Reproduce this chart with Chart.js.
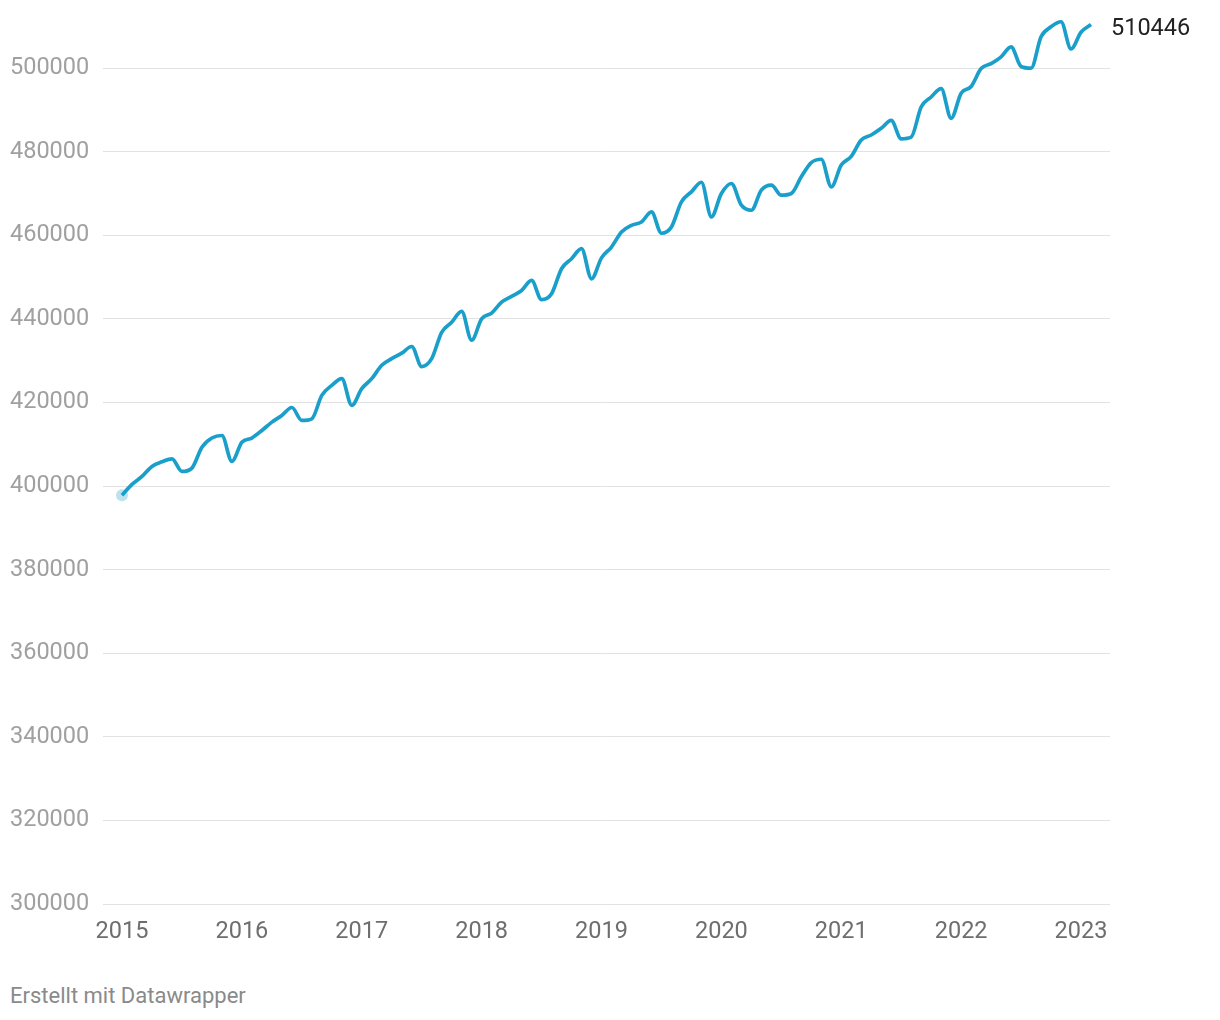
<!DOCTYPE html>
<html>
<head>
<meta charset="utf-8">
<script src="https://cdn.jsdelivr.net/npm/chart.js@4"></script>
<style>
  html, body { margin: 0; padding: 0; background: #fff; }
  #wrap { position: relative; width: 1220px; height: 1020px; }
  #chart-box { position: absolute; left: 0; top: 0; width: 1220px; height: 960px; }
  #credit { position: absolute; left: 10px; top: 983px; font: 22px Roboto, sans-serif; color: #8a8a8a; }
</style>
</head>
<body>
<div id="wrap">
  <div id="chart-box"><canvas id="lineChart"></canvas></div>
  <div id="credit">Erstellt mit Datawrapper</div>
</div>
<script>
// monthly values, Jan..Dec per year
var years = [2015, 2016, 2017, 2018, 2019, 2020, 2021, 2022, 2023];
var v2015 = [397800, 400400, 402300, 404700, 405800, 406500, 403500, 404300, 409300, 411500, 412100, 405900];
var v2016 = [410500, 411500, 413300, 415300, 416900, 418800, 415700, 416100, 421700, 424100, 425700, 419300];
var v2017 = [423300, 425700, 428900, 430500, 431800, 433400, 428600, 430500, 436800, 439200, 441800, 434900];
var v2018 = [440000, 441400, 444000, 445400, 446800, 449200, 444600, 446000, 452000, 454400, 456800, 449600];
var v2019 = [454600, 457200, 460800, 462400, 463200, 465600, 460500, 462000, 468000, 470400, 472700, 464400];
var v2020 = [470000, 472400, 467200, 466000, 470800, 472000, 469600, 470000, 474000, 477400, 478200, 471600];
var v2021 = [476800, 478900, 482800, 484000, 485600, 487500, 483100, 483500, 490700, 493100, 495100, 488000];
var v2022 = [494000, 495600, 499900, 501100, 502700, 505100, 500400, 500000, 507500, 509900, 511100, 504600];
var v2023 = [508600, 510446];
var yTicks = [300000, 320000, 340000, 360000, 380000, 400000, 420000, 440000, 460000, 480000, 500000];
var xTicks = [2015, 2016, 2017, 2018, 2019, 2020, 2021, 2022, 2023];

var series = [v2015, v2016, v2017, v2018, v2019, v2020, v2021, v2022, v2023];
var points = [];
series.forEach(function(arr, i) {
    arr.forEach(function(v, m) {
        points.push({ x: years[i] + m / 12, y: v });
    });
});

var lineBlue = '#1a9fcb';

var lastLabel = {
    id: 'lastLabel',
    afterDatasetsDraw: function(chart) {
        var meta = chart.getDatasetMeta(0);
        var pt = meta.data[meta.data.length - 1];
        var val = points[points.length - 1].y;
        var ctx = chart.ctx;
        ctx.save();
        ctx.font = '23.5px Roboto';
        ctx.fillStyle = '#222';
        ctx.textAlign = 'left';
        ctx.textBaseline = 'middle';
        ctx.fillText(String(val), chart.chartArea.right + 1, pt.y + 5);
        ctx.restore();
    }
};

new Chart(document.getElementById('lineChart').getContext('2d'), {
    type: 'line',
    data: {
        datasets: [{
            data: points,
            borderColor: lineBlue,
            borderWidth: 3.7,
            cubicInterpolationMode: 'monotone',
            pointRadius: function(c) { return c.dataIndex === 0 ? 6 : 0; },
            pointBackgroundColor: 'rgba(26,159,203,0.3)',
            pointBorderWidth: 0,
            pointHoverRadius: 0,
            fill: false,
            clip: false
        }]
    },
    options: {
        responsive: true,
        maintainAspectRatio: false,
        animation: false,
        events: [],
        layout: { padding: { left: 10, right: 110, top: 18, bottom: 0 } },
        plugins: { legend: { display: false }, tooltip: { enabled: false } },
        scales: {
            x: {
                type: 'linear',
                min: 2015 - 19 / 119.875,
                max: 2023 + 29 / 119.875,
                afterBuildTicks: function(axis) {
                    axis.ticks = xTicks.map(function(v) { return { value: v }; });
                },
                afterFit: function(axis) { axis.height = 56; },
                grid: { display: false, drawTicks: false },
                border: { display: false },
                ticks: {
                    color: '#6e6e6e',
                    font: { family: 'Roboto', size: 23.5 },
                    padding: 14,
                    maxRotation: 0,
                    autoSkip: false,
                    callback: function(v) { return String(v); }
                }
            },
            y: {
                min: 300000,
                max: 512000,
                afterBuildTicks: function(axis) {
                    axis.ticks = yTicks.map(function(v) { return { value: v }; });
                },
                afterFit: function(axis) { axis.width = 93; },
                grid: { color: '#e2e2e2', lineWidth: 1, drawTicks: false },
                border: { display: false },
                ticks: {
                    color: '#a0a0a0',
                    font: { family: 'Roboto', size: 23.5 },
                    crossAlign: 'far',
                    callback: function(v) { return String(v); }
                }
            }
        }
    },
    plugins: [lastLabel]
});
</script>
</body>
</html>
